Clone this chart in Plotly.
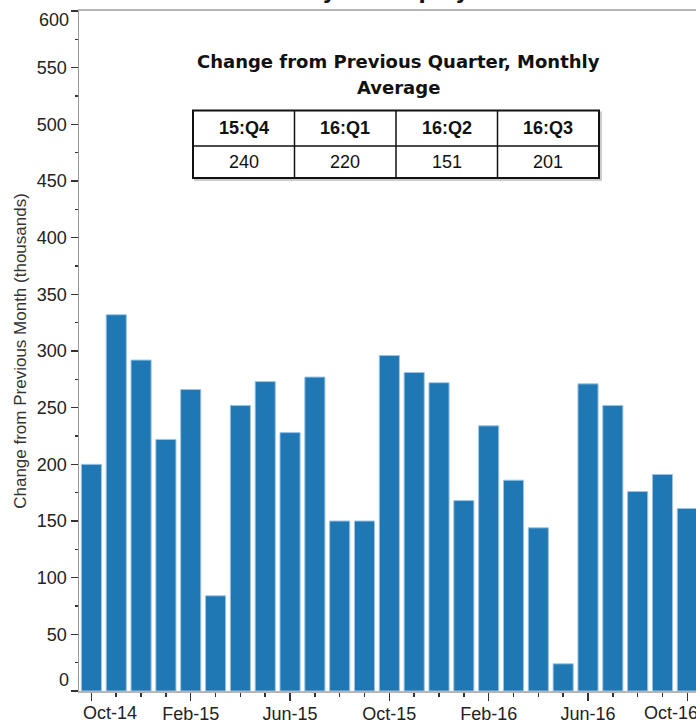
import plotly.graph_objects as go

# ---------------- data ----------------
months = ["Oct-14", "Nov-14", "Dec-14", "Jan-15", "Feb-15", "Mar-15", "Apr-15",
          "May-15", "Jun-15", "Jul-15", "Aug-15", "Sep-15", "Oct-15", "Nov-15",
          "Dec-15", "Jan-16", "Feb-16", "Mar-16", "Apr-16", "May-16", "Jun-16",
          "Jul-16", "Aug-16", "Sep-16", "Oct-16"]
job_change = [200, 332, 292, 222, 266, 84, 252, 273, 228, 277, 150, 150, 296,
              281, 272, 168, 234, 186, 144, 24, 271, 252, 176, 191, 161]
quarters = ["15:Q4", "16:Q1", "16:Q2", "16:Q3"]
quarter_avgs = [240, 220, 151, 201]
y_ticks = list(range(0, 601, 50))
label_every = 4

# ---------------- layout geometry (pixels) ----------------
W, H = 696, 721
ML, MR, MT, MB = 79, 0, 11, 29.5
PW, PH = W - ML - MR, H - MT - MB


def px_x(p):
    return (p - ML) / PW


def px_y(p):
    return (H - MB - p) / PH


x_idx = list(range(len(months)))
tickvals = x_idx[::label_every]
ticktext = months[::label_every]
# edge labels are nudged inward (drawn as annotations below)
ticktext_inner = [""] + ticktext[1:-1] + [""]
y_text = [str(v) for v in y_ticks]
y_text_inner = [""] + y_text[1:-1] + [""]

fig = go.Figure()
fig.add_trace(go.Bar(
    x=x_idx, y=job_change,
    marker=dict(color="#1f77b4", line=dict(color="#9cc4e6", width=1)),
    hoverinfo="skip",
))

AX_FONT = dict(family="Liberation Sans, Arial, sans-serif", size=18, color="#222222")

fig.update_layout(
    width=W, height=H,
    margin=dict(l=ML, r=MR, t=MT, b=MB, pad=0, autoexpand=False),
    paper_bgcolor="white", plot_bgcolor="white",
    bargap=0.19,
    showlegend=False,
    title=dict(
        text="<b>Nonfarm Payroll Employment</b>",
        font=dict(family="DejaVu Sans", size=21, color="#111111"),
        x=357 / W, xanchor="center", xref="container",
        y=1, yanchor="bottom", yref="container", pad=dict(b=1),
        automargin=False,
    ),
    xaxis=dict(
        automargin=False,
        range=[-0.5, 24.35],
        tickmode="array", tickvals=tickvals, ticktext=ticktext_inner,
        ticks="outside", ticklen=8, tickwidth=1.5, tickcolor="#333333",
        minor=dict(dtick=1, tick0=0, ticks="outside", ticklen=4,
                   tickwidth=1.5, tickcolor="#333333"),
        showgrid=False, zeroline=False,
        showline=True, linecolor="#b5b5b5", linewidth=2, mirror=True,
        tickfont=AX_FONT,
        ticklabeloverflow="allow",
        ticklabelstandoff=-3,
    ),
    yaxis=dict(
        automargin=False,
        range=[0, 600],
        tickmode="array", tickvals=y_ticks, ticktext=y_text_inner,
        ticks="outside", ticklen=7, tickwidth=1.5, tickcolor="#333333",
        minor=dict(dtick=25, tick0=0, ticks="outside", ticklen=3,
                   tickwidth=1.5, tickcolor="#333333"),
        showgrid=False, zeroline=False,
        showline=True, linecolor="#999999", linewidth=1.5,
        tickfont=AX_FONT,
        title=dict(text="Change from Previous Month (thousands)",
                   font=dict(family="Liberation Sans, Arial, sans-serif",
                             size=17, color="#333333"),
                   standoff=6),
    ),
)

# edge tick labels, nudged inward like the original
fig.add_annotation(xref="x", yref="paper", x=tickvals[0], y=0,
                   text=ticktext[0], showarrow=False, xanchor="left",
                   yanchor="middle", xshift=-10.5, yshift=-22, font=AX_FONT)
fig.add_annotation(xref="x", yref="paper", x=tickvals[-1], y=0,
                   text=ticktext[-1], showarrow=False, xanchor="right",
                   yanchor="middle", xshift=12.5, yshift=-22, font=AX_FONT)
fig.add_annotation(xref="paper", yref="y", x=0, y=y_ticks[-1],
                   text=y_text[-1], showarrow=False, xanchor="right",
                   yanchor="middle", xshift=-8, yshift=-9, font=AX_FONT)
fig.add_annotation(xref="paper", yref="y", x=0, y=y_ticks[0],
                   text=y_text[0], showarrow=False, xanchor="right",
                   yanchor="middle", xshift=-8, yshift=11, font=AX_FONT)

# ---------------- inset table ----------------
tbl_l, tbl_r = 193, 599
tbl_t, tbl_m, tbl_b = 110.5, 146, 178
ncol = len(quarters)
colw = (tbl_r - tbl_l) / ncol

# faint shadow
fig.add_shape(type="rect", xref="paper", yref="paper",
              x0=px_x(tbl_l + 2), x1=px_x(tbl_r + 2),
              y0=px_y(tbl_b + 2), y1=px_y(tbl_t + 2),
              line=dict(color="#cccccc", width=2), fillcolor="rgba(0,0,0,0)",
              layer="above")
fig.add_shape(type="rect", xref="paper", yref="paper",
              x0=px_x(tbl_l), x1=px_x(tbl_r), y0=px_y(tbl_b), y1=px_y(tbl_t),
              line=dict(color="#111111", width=2), fillcolor="white",
              layer="above")
fig.add_shape(type="line", xref="paper", yref="paper",
              x0=px_x(tbl_l), x1=px_x(tbl_r), y0=px_y(tbl_m), y1=px_y(tbl_m),
              line=dict(color="#111111", width=1.5), layer="above")
for i in range(1, ncol):
    xc = tbl_l + i * colw
    fig.add_shape(type="line", xref="paper", yref="paper",
                  x0=px_x(xc), x1=px_x(xc), y0=px_y(tbl_b), y1=px_y(tbl_t),
                  line=dict(color="#111111", width=1.5), layer="above")

for i, (q, v) in enumerate(zip(quarters, quarter_avgs)):
    xc = tbl_l + (i + 0.5) * colw
    fig.add_annotation(xref="paper", yref="paper", x=px_x(xc),
                       y=px_y((tbl_t + tbl_m) / 2), text=f"<b>{q}</b>",
                       showarrow=False, xanchor="center", yanchor="middle",
                       font=dict(family="Liberation Sans, Arial", size=18,
                                 color="#111111"))
    fig.add_annotation(xref="paper", yref="paper", x=px_x(xc),
                       y=px_y((tbl_m + tbl_b) / 2), text=str(v),
                       showarrow=False, xanchor="center", yanchor="middle",
                       font=dict(family="Liberation Sans, Arial", size=18,
                                 color="#111111"))

TT_FONT = dict(family="DejaVu Sans", size=18, color="#111111")
fig.add_annotation(xref="paper", yref="paper", x=px_x(398), y=px_y(62),
                   text="<b>Change from Previous Quarter, Monthly</b>",
                   showarrow=False, xanchor="center", yanchor="middle",
                   font=TT_FONT)
fig.add_annotation(xref="paper", yref="paper", x=px_x(398), y=px_y(88),
                   text="<b>Average</b>",
                   showarrow=False, xanchor="center", yanchor="middle",
                   font=TT_FONT)

fig.write_html(
    "out.html",
    config={"displayModeBar": False, "staticPlot": True},
    post_script="document.body.style.margin='0';document.body.style.overflow='hidden';",
)
